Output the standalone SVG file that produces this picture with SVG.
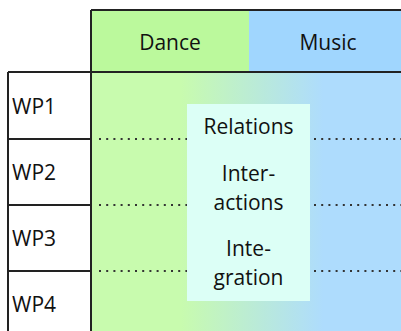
<svg xmlns="http://www.w3.org/2000/svg" width="401" height="331" viewBox="0 0 401 331">
<defs>
<linearGradient id="bodyGrad" gradientUnits="userSpaceOnUse" x1="91" y1="0" x2="401" y2="0">
<stop offset="0.29" stop-color="#c8fbae"/>
<stop offset="0.75" stop-color="#aedcfd"/>
</linearGradient>
<style>
text{font-family:"Open Sans","Noto Sans",sans-serif;font-size:21px;fill:#111}
.c{text-anchor:middle}
.b{stroke:#222;stroke-width:2;fill:none}
.d{stroke:#333;stroke-width:2;stroke-dasharray:2 5.2;fill:none}
</style>
</defs>
<rect width="401" height="331" fill="#fff"/>
<g id="body">
<rect x="91" y="72" width="310" height="259" fill="url(#bodyGrad)"/>
</g>
<g id="dance">
<rect x="91" y="10" width="158" height="62" fill="#bbf99c"/>
<text class="c" x="170" y="50">Dance</text>
</g>
<g id="music">
<rect x="249" y="10" width="152" height="62" fill="#a0d6fe"/>
<text class="c" x="328" y="50">Music</text>
</g>
<g id="connectors">
<path class="d" d="M99 139H188M99 205H188M99 271H188M314 139H401M314 205H401M314 271H401"/>
</g>
<g id="center">
<rect x="187" y="104" width="123" height="197" fill="#dcfff6"/>
<text class="c" x="248.5" y="134">Relations</text>
<text class="c" x="248.5" y="181">Inter-</text>
<text class="c" x="248.5" y="210">actions</text>
<text class="c" x="248.5" y="256">Inte-</text>
<text class="c" x="248.5" y="285">gration</text>
</g>
<g id="wp1"><text x="12" y="114">WP1</text></g>
<g id="wp2"><text x="12" y="180">WP2</text></g>
<g id="wp3"><text x="12" y="246">WP3</text></g>
<g id="wp4"><text x="12" y="312">WP4</text></g>
<g id="grid">
<path class="b" d="M91 10H401M91 10V331M8 72H401M8 72V331M8 139H91M8 205H91M8 271H91"/>
</g>
</svg>
